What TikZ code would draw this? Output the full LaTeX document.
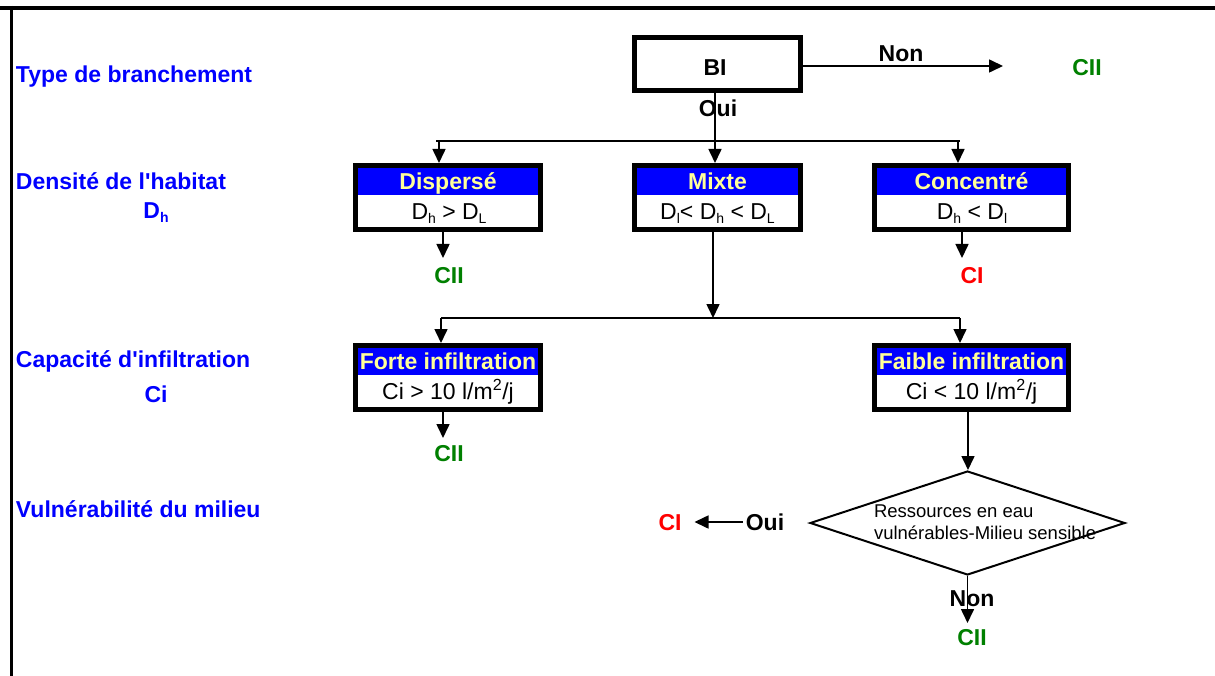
\documentclass[tikz,border=0pt]{standalone}
\usepackage{fontspec}
\setmainfont{Liberation Sans}
\usetikzlibrary{arrows.meta,shapes.geometric}
\definecolor{hblue}{RGB}{0,0,255}
\definecolor{hyel}{RGB}{255,255,153}
\definecolor{cgreen}{RGB}{0,128,0}
\definecolor{cred}{RGB}{255,0,0}
\newcommand{\lsub}[1]{\raisebox{-0.35ex}{\fontsize{14}{14}\selectfont #1}}
\begin{document}
\begin{tikzpicture}[x=1pt,y=-1pt,
  every node/.style={inner sep=0pt, outer sep=0pt},
  bfont/.style={font=\fontsize{23}{27}\selectfont\bfseries},
  rfont/.style={font=\fontsize{23}{27}\selectfont},
  txt/.style={text height=16.3pt, text depth=0pt},
  side/.style={bfont, txt, text=hblue, anchor=west},
  sidec/.style={bfont, txt, text=hblue},
  frame/.style={draw, line width=5pt, fill=white, outer sep=2.5pt},
  hdr/.style={fill=hblue, text=hyel, bfont, txt, minimum height=27pt},
  body/.style={rfont, txt},
  res/.style={bfont, txt},
  conn/.style={line width=1.6pt},
  arr/.style={conn, -{Triangle[length=14pt,width=13pt]}},
]
\useasboundingbox (0,0) rectangle (1215,676);
\fill[white] (0,0) rectangle (1215,676);
% outer frame lines
\draw[line width=4pt] (0,8) -- (1215,8);
\draw[line width=3.3pt] (11.7,6) -- (11.7,676);

% side labels
\node[side] (l1) at (16,74) {Type de branchement};
\node[side] (l2) at (16,181) {Densité de l\textquotesingle habitat};
\node[sidec] (l2b) at (156,210.5) {D\lsub{h}};
\node[side] (l3) at (16,359.5) {Capacité d\textquotesingle infiltration};
\node[sidec] (l3b) at (156,394) {Ci};
\node[side] (l4) at (16,509.5) {Vulnérabilité du milieu};

% BI box
\node[frame, minimum width=166pt, minimum height=53pt] (bi) at (717.5,64) {};
\node[res] (bitxt) at (715,67) {BI};
\node[res] (non1) at (901,53) {Non};
\node[res, text=cgreen] (cii1) at (1087,67) {CII};
\node[res] (oui1) at (718,108) {Oui};

% density boxes
\node[frame, minimum width=185pt, minimum height=64pt] (dis) at (448,197.5) {};
\node[hdr, minimum width=180pt] (dish) at (448,181.5) {Dispersé};
\node[body] (disb) at (449,211) {D\lsub{h} > D\lsub{L}};

\node[frame, minimum width=166pt, minimum height=64pt] (mix) at (717.5,197.5) {};
\node[hdr, minimum width=161pt] (mixh) at (717.5,181.5) {Mixte};
\node[body] (mixb) at (717.5,211) {D\lsub{l}< D\lsub{h} < D\lsub{L}};

\node[frame, minimum width=194pt, minimum height=64pt] (con) at (971.5,197.5) {};
\node[hdr, minimum width=189pt] (conh) at (971.5,181.5) {Concentré};
\node[body] (conb) at (972,211) {D\lsub{h} < D\lsub{l}};

\node[res, text=cgreen] (cii2) at (449,275) {CII};
\node[res, text=cred] (ci1) at (972,275) {CI};

% infiltration boxes
\node[frame, minimum width=185pt, minimum height=64pt] (for) at (448,377.5) {};
\node[hdr, minimum width=180pt] (forh) at (448,361.5) {Forte infiltration};
\node[body] (forb) at (448,391) {Ci > 10 l/m\textsuperscript{2}/j};

\node[frame, minimum width=194pt, minimum height=64pt] (fai) at (971.5,377.5) {};
\node[hdr, minimum width=189pt] (faih) at (971.5,361.5) {Faible infiltration};
\node[body] (faib) at (971.5,391) {Ci < 10 l/m\textsuperscript{2}/j};

\node[res, text=cgreen] (cii3) at (449,453) {CII};

% diamond
\node[diamond, draw, line width=2pt, minimum width=315pt, minimum height=104pt, outer sep=1pt] (dia) at (967.5,523) {};
\node[anchor=west, align=left, font=\fontsize{18.5}{22}\selectfont] (diat) at (874,522) {Ressources en eau\\vulnérables-Milieu sensible};
\node[res] (oui2) at (765,522) {Oui};
\node[res, text=cred] (ci2) at (670,522) {CI};
\node[res] (non2) at (972,598) {Non};
\node[res, text=cgreen] (cii4) at (972,637) {CII};

% coordinates
\coordinate (n1end) at (1003,66);
\coordinate (b1s) at (436,141);
\coordinate (b1l) at (439,141);
\coordinate (b1m) at (715,141);
\coordinate (b1r) at (958,141);
\coordinate (b1e) at (960,141);
\coordinate (a1) at (443,258);
\coordinate (a2) at (962,258);
\coordinate (b2m) at (713,318);
\coordinate (b2s) at (441,318);
\coordinate (b2e) at (960,318);
\coordinate (a3) at (443,438);
\coordinate (fd) at (968,412);
\coordinate (a4) at (968,623);

% connectors
\draw[arr] (bi.east |- n1end) -- (n1end);
\draw[arr] (bi.south -| b1m) -- (b1m |- mix.north);
\draw[conn] (b1s) -- (b1e);
\draw[arr] (b1l) -- (b1l |- dis.north);
\draw[arr] (b1r) -- (b1r |- con.north);
\draw[arr] (dis.south -| a1) -- (a1);
\draw[arr] (con.south -| a2) -- (a2);
\draw[arr] (mix.south -| b2m) -- (b2m);
\draw[conn] (b2s) -- (b2e);
\draw[arr] (b2s) -- (b2s |- for.north);
\draw[arr] (b2e) -- (b2e |- fai.north);
\draw[arr] (for.south -| a3) -- (a3);
\draw[arr] (fai.south -| fd) -- (fd |- dia.north);
\draw[arr] (dia.south) -- (dia.south |- a4);
\draw[arr, shorten <=3pt, shorten >=13pt] (oui2.west) -- (ci2.east);
\end{tikzpicture}
\end{document}
